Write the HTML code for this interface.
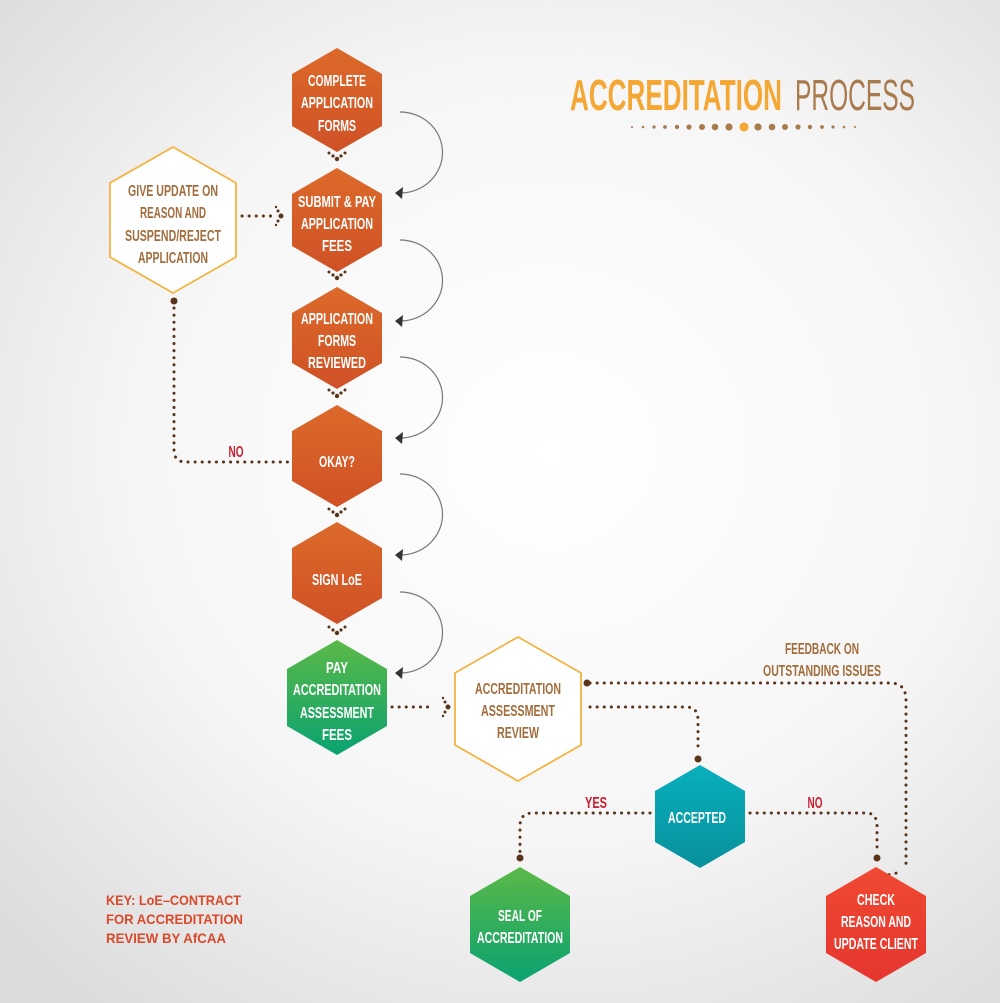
<!DOCTYPE html>
<html><head><meta charset="utf-8"><style>
html,body{margin:0;padding:0;width:1000px;height:1003px;overflow:hidden}
body{background:radial-gradient(ellipse 75% 70% at 55% 45%,#ffffff 0%,#f6f6f6 55%,#dcdcdc 100%)}
text{font-family:"Liberation Sans Narrow","Liberation Sans",sans-serif;font-weight:bold}
.c{text-anchor:middle}
.s{text-anchor:start;font-family:"Liberation Sans",sans-serif}
</style></head><body>
<svg width="1000" height="1003" viewBox="0 0 1000 1003" xmlns="http://www.w3.org/2000/svg">
<defs>
<linearGradient id="or" x1="0" y1="0" x2="0" y2="1"><stop offset="0" stop-color="#dc6a2a"/><stop offset="1" stop-color="#cf5126"/></linearGradient>
<linearGradient id="gr" x1="0" y1="0" x2="0" y2="1"><stop offset="0" stop-color="#5bb947"/><stop offset="1" stop-color="#0aa271"/></linearGradient>
<linearGradient id="tl" x1="0" y1="0" x2="0" y2="1"><stop offset="0" stop-color="#09b0bc"/><stop offset="1" stop-color="#07909c"/></linearGradient>
<linearGradient id="rd" x1="0" y1="0" x2="0" y2="1"><stop offset="0" stop-color="#f04a32"/><stop offset="1" stop-color="#e5352e"/></linearGradient>
<g id="arc"><path d="M400 112 A42 40 0 0 1 400 193" fill="none" stroke="#777" stroke-width="1.2"/><path d="M395 193 L403 187 L402 199 Z" fill="#333"/></g>
<g id="tri" fill="#5a3418"><circle cx="329" cy="153" r="1.5"/><circle cx="345" cy="153" r="1.5"/><circle cx="333" cy="156" r="1.6"/><circle cx="341" cy="156" r="1.6"/><circle cx="337" cy="159" r="2.2"/></g>
</defs>
<text class="c" x="676" y="110" font-size="44" fill="#f5a733" textLength="212" lengthAdjust="spacingAndGlyphs">ACCREDITATION</text>
<text class="c" x="855" y="110" font-size="44" fill="#a87a4c" style="font-weight:normal" textLength="120" lengthAdjust="spacingAndGlyphs">PROCESS</text>
<g fill="#a87a4c">
<circle cx="632" cy="127" r="1"/><circle cx="643" cy="127" r="1.3"/><circle cx="654" cy="127" r="1.6"/><circle cx="665" cy="127" r="1.9"/><circle cx="677" cy="127" r="2.2"/><circle cx="689" cy="127" r="2.6"/><circle cx="702" cy="127" r="3"/><circle cx="715" cy="127" r="3.3"/><circle cx="729" cy="127" r="3.6"/>
<circle cx="758" cy="127" r="3.6"/><circle cx="772" cy="127" r="3.3"/><circle cx="785" cy="127" r="3"/><circle cx="798" cy="127" r="2.6"/><circle cx="810" cy="127" r="2.2"/><circle cx="822" cy="127" r="1.9"/><circle cx="833" cy="127" r="1.6"/><circle cx="844" cy="127" r="1.3"/><circle cx="855" cy="127" r="1"/>
</g>
<circle cx="744" cy="127" r="4.5" fill="#f5a733"/>

<g fill="none" stroke="#5a3418" stroke-width="3" stroke-dasharray="0.1 7" stroke-linecap="round">
<path d="M242 216 H272"/>
<path d="M174 308 V450 Q174 462 186 462 H288"/>
<path d="M392 707 H432"/>
<path d="M590 683 H890 Q906 683 906 700 V870"/>
<path d="M590 707 H686 Q698 707 698 720 V752"/>
<path d="M650 813 H533 Q520 813 520 826 V852"/>
<path d="M750 813 H866 Q877 813 877 826 V850"/>
<path d="M882 876 L902 872"/>
</g>
<g fill="#5a3418">
<circle cx="174" cy="301" r="3.5"/><circle cx="587" cy="683" r="3.5"/><circle cx="698" cy="759" r="3.5"/><circle cx="520" cy="858" r="3.5"/><circle cx="877" cy="858" r="3.5"/>
<circle cx="281" cy="216" r="2.5"/><circle cx="278" cy="211" r="1.5"/><circle cx="278" cy="221" r="1.5"/><circle cx="276" cy="207" r="1.2"/><circle cx="276" cy="225" r="1.2"/>
<circle cx="448" cy="707" r="2.5"/><circle cx="445" cy="702" r="1.5"/><circle cx="445" cy="712" r="1.5"/><circle cx="443" cy="698" r="1.2"/><circle cx="443" cy="716" r="1.2"/>
</g>
<use href="#tri"/><use href="#tri" y="119"/><use href="#tri" y="237"/><use href="#tri" y="356"/><use href="#tri" y="474"/>
<use href="#arc"/><use href="#arc" y="128"/><use href="#arc" y="245"/><use href="#arc" y="362"/><use href="#arc" y="480"/>

<polygon points="173,147 236,183 236,257 173,293 110,257 110,183" fill="#fff" stroke="#f5b342" stroke-width="1.8"/>
<polygon points="518,637 581,673 581,745 518,781 455,745 455,673" fill="#fff" stroke="#f5b342" stroke-width="1.8"/>

<g fill="url(#or)">
<polygon points="337,48 382,74 382,126 337,152 292,126 292,74"/>
<polygon points="337,168 382,194 382,246 337,272 292,246 292,194"/>
<polygon points="337,287 382,313 382,363 337,389 292,363 292,313"/>
<polygon points="337,405 382,431 382,481 337,507 292,481 292,431"/>
<polygon points="337,522 382,548 382,598 337,624 292,598 292,548"/>
</g>
<polygon points="337,640 387,669 387,726 337,755 287,726 287,669" fill="url(#gr)"/>
<polygon points="700,765 745,791 745,842 700,868 655,842 655,791" fill="url(#tl)"/>
<polygon points="520,867 570,896 570,953 520,982 470,953 470,896" fill="url(#gr)"/>
<polygon points="876,867 926,896 926,953 876,982 826,953 826,896" fill="url(#rd)"/>

<g fill="#fff" font-size="16" class="c">
<text class="c" x="337" y="86" textLength="58" lengthAdjust="spacingAndGlyphs">COMPLETE</text>
<text class="c" x="337" y="108" textLength="72" lengthAdjust="spacingAndGlyphs">APPLICATION</text>
<text class="c" x="337" y="131" textLength="38" lengthAdjust="spacingAndGlyphs">FORMS</text>
<text class="c" x="337" y="207" textLength="78" lengthAdjust="spacingAndGlyphs">SUBMIT &amp; PAY</text>
<text class="c" x="337" y="229" textLength="72" lengthAdjust="spacingAndGlyphs">APPLICATION</text>
<text class="c" x="337" y="251" textLength="30" lengthAdjust="spacingAndGlyphs">FEES</text>
<text class="c" x="337" y="324" textLength="72" lengthAdjust="spacingAndGlyphs">APPLICATION</text>
<text class="c" x="337" y="346" textLength="38" lengthAdjust="spacingAndGlyphs">FORMS</text>
<text class="c" x="337" y="368" textLength="58" lengthAdjust="spacingAndGlyphs">REVIEWED</text>
<text class="c" x="337" y="467" textLength="36" lengthAdjust="spacingAndGlyphs">OKAY?</text>
<text class="c" x="337" y="585" textLength="50" lengthAdjust="spacingAndGlyphs">SIGN LoE</text>
<text class="c" x="337" y="673" textLength="22" lengthAdjust="spacingAndGlyphs">PAY</text>
<text class="c" x="337" y="695" textLength="88" lengthAdjust="spacingAndGlyphs">ACCREDITATION</text>
<text class="c" x="337" y="718" textLength="74" lengthAdjust="spacingAndGlyphs">ASSESSMENT</text>
<text class="c" x="337" y="740" textLength="30" lengthAdjust="spacingAndGlyphs">FEES</text>
<text class="c" x="697" y="823" textLength="58" lengthAdjust="spacingAndGlyphs">ACCEPTED</text>
<text class="c" x="520" y="921" textLength="44" lengthAdjust="spacingAndGlyphs">SEAL OF</text>
<text class="c" x="520" y="943" textLength="86" lengthAdjust="spacingAndGlyphs">ACCREDITATION</text>
<text class="c" x="876" y="905" textLength="38" lengthAdjust="spacingAndGlyphs">CHECK</text>
<text class="c" x="876" y="927" textLength="70" lengthAdjust="spacingAndGlyphs">REASON AND</text>
<text class="c" x="876" y="949" textLength="84" lengthAdjust="spacingAndGlyphs">UPDATE CLIENT</text>
</g>
<g fill="#a26d3c" font-size="16">
<text class="c" x="173" y="196" textLength="90" lengthAdjust="spacingAndGlyphs">GIVE UPDATE ON</text>
<text class="c" x="173" y="218" textLength="66" lengthAdjust="spacingAndGlyphs">REASON AND</text>
<text class="c" x="173" y="241" textLength="96" lengthAdjust="spacingAndGlyphs">SUSPEND/REJECT</text>
<text class="c" x="173" y="263" textLength="70" lengthAdjust="spacingAndGlyphs">APPLICATION</text>
<text class="c" x="518" y="694" textLength="86" lengthAdjust="spacingAndGlyphs">ACCREDITATION</text>
<text class="c" x="518" y="716" textLength="74" lengthAdjust="spacingAndGlyphs">ASSESSMENT</text>
<text class="c" x="518" y="738" textLength="42" lengthAdjust="spacingAndGlyphs">REVIEW</text>
<text class="c" x="822" y="654" textLength="74" lengthAdjust="spacingAndGlyphs">FEEDBACK ON</text>
<text class="c" x="822" y="676" textLength="118" lengthAdjust="spacingAndGlyphs">OUTSTANDING ISSUES</text>
</g>
<g fill="#c8202f" font-size="16">
<text class="c" x="236" y="457" textLength="15" lengthAdjust="spacingAndGlyphs">NO</text>
<text class="c" x="596" y="808" textLength="22" lengthAdjust="spacingAndGlyphs">YES</text>
<text class="c" x="815" y="808" textLength="15" lengthAdjust="spacingAndGlyphs">NO</text>
</g>
<g fill="#d9492a" font-size="14">
<text class="s" x="106" y="905" textLength="135" lengthAdjust="spacingAndGlyphs">KEY: LoE–CONTRACT</text>
<text class="s" x="106" y="924" textLength="137" lengthAdjust="spacingAndGlyphs">FOR ACCREDITATION</text>
<text class="s" x="106" y="943" textLength="120" lengthAdjust="spacingAndGlyphs">REVIEW BY AfCAA</text>
</g>
</svg>
</body></html>
